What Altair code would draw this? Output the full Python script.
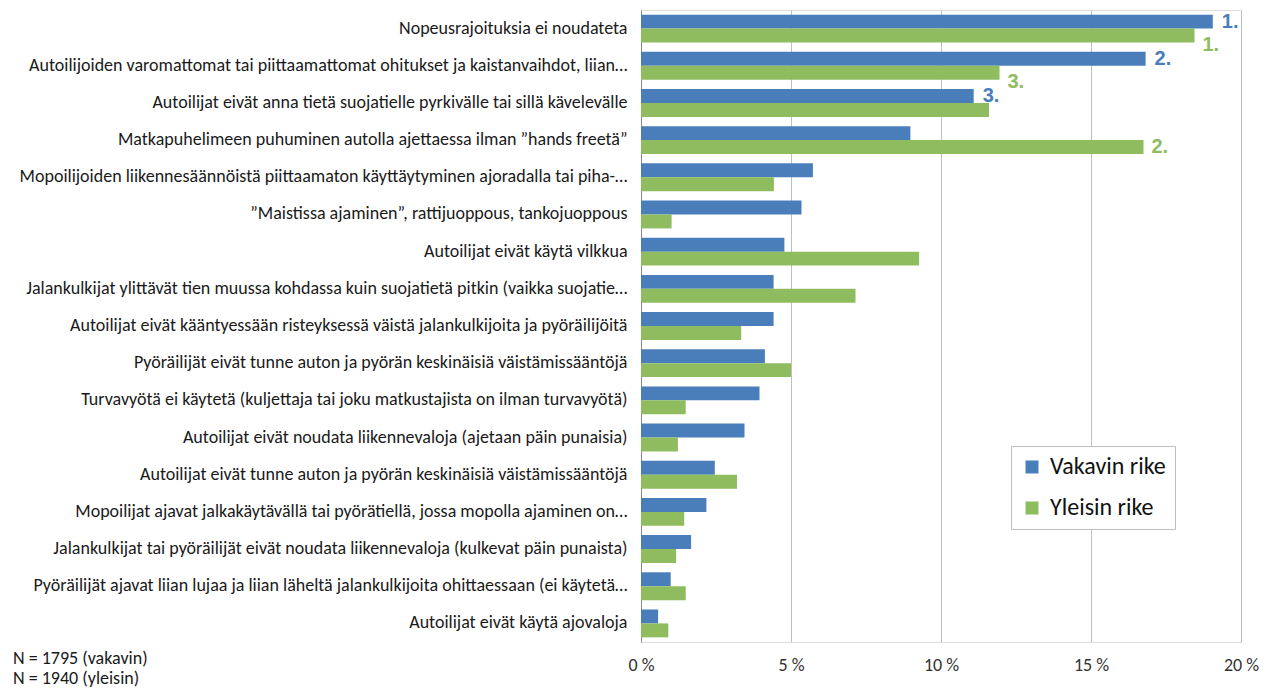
import altair as alt
import pandas as pd

categories = [
    "Nopeusrajoituksia ei noudateta",
    "Autoilijoiden varomattomat tai piittaamattomat ohitukset ja kaistanvaihdot, liian…",
    "Autoilijat eivät anna tietä suojatielle pyrkivälle tai sillä kävelevälle",
    "Matkapuhelimeen puhuminen autolla ajettaessa ilman ”hands freetä”",
    "Mopoilijoiden liikennesäännöistä piittaamaton käyttäytyminen ajoradalla tai piha-…",
    "”Maistissa ajaminen”, rattijuoppous, tankojuoppous",
    "Autoilijat eivät käytä vilkkua",
    "Jalankulkijat ylittävät tien muussa kohdassa kuin suojatietä pitkin (vaikka suojatie…",
    "Autoilijat eivät kääntyessään risteyksessä väistä jalankulkijoita ja pyöräilijöitä",
    "Pyöräilijät eivät tunne auton ja pyörän keskinäisiä väistämissääntöjä",
    "Turvavyötä ei käytetä (kuljettaja tai joku matkustajista on ilman turvavyötä)",
    "Autoilijat eivät noudata liikennevaloja (ajetaan päin punaisia)",
    "Autoilijat eivät tunne auton ja pyörän keskinäisiä väistämissääntöjä",
    "Mopoilijat ajavat jalkakäytävällä tai pyörätiellä,  jossa mopolla ajaminen on…",
    "Jalankulkijat tai pyöräilijät eivät noudata liikennevaloja (kulkevat päin punaista)",
    "Pyöräilijät ajavat liian lujaa ja liian läheltä jalankulkijoita ohittaessaan (ei käytetä…",
    "Autoilijat eivät käytä ajovaloja",
]
vakavin = [19.06, 16.82, 11.09, 8.98, 5.73, 5.35, 4.78, 4.42, 4.42, 4.13, 3.95, 3.45, 2.46, 2.18, 1.67, 0.99, 0.57]
yleisin = [18.45, 11.95, 11.60, 16.75, 4.43, 1.02, 9.27, 7.15, 3.34, 5.00, 1.49, 1.23, 3.20, 1.44, 1.17, 1.49, 0.91]
vakavin_rank = ["1.", "2.", "3.", "", "", "", "", "", "", "", "", "", "", "", "", "", ""]
yleisin_rank = ["1.", "3.", "", "2.", "", "", "", "", "", "", "", "", "", "", "", "", ""]
series = ["Vakavin rike", "Yleisin rike"]
colors = ["#4A7EBB", "#8FBC5F"]
x_ticks = [0, 5, 10, 15, 20]
notes = ["N = 1795 (vakavin)", "N = 1940 (yleisin)"]

FONT = "Carlito, Lato, sans-serif"
RANK_FONT = "'Liberation Sans', Arial, sans-serif"

rows = []
for c, v, r in zip(categories, vakavin, vakavin_rank):
    rows.append({"cat": c, "series": series[0], "value": v, "rank": r})
for c, v, r in zip(categories, yleisin, yleisin_rank):
    rows.append({"cat": c, "series": series[1], "value": v, "rank": r})
df = pd.DataFrame(rows)

y_enc = alt.Y("cat:N", sort=categories,
              scale=alt.Scale(paddingInner=0.25, paddingOuter=0.125),
              axis=alt.Axis(title=None, labelFontSize=18, labelFont=FONT, labelColor="#1a1a1a",
                            labelLimit=800, labelPadding=14, ticks=False, domain=True,
                            domainColor="#888888", domainWidth=1, grid=False))
x_enc = alt.X("value:Q", scale=alt.Scale(domain=[0, 20], nice=False),
              axis=alt.Axis(title=None, values=x_ticks, labelExpr="datum.value + ' %'",
                            labelFontSize=18, labelFont=FONT, labelColor="#333333",
                            labelFlush=False, labelPadding=14, ticks=False, domain=False,
                            grid=True, gridColor="#BFBFBF", gridWidth=1))
yoff = alt.YOffset("series:N", sort=series, scale=alt.Scale(domain=series, paddingInner=0, paddingOuter=0))

bars = alt.Chart(df).mark_bar().encode(
    y=y_enc, x=x_enc, yOffset=yoff,
    color=alt.Color("series:N", scale=alt.Scale(domain=series, range=colors),
                    legend=alt.Legend(title=None, orient="none", legendX=370, legendY=436,
                                      labelFont=FONT, labelFontSize=24, labelColor="#111111",
                                      symbolType="square", symbolSize=169, symbolStrokeWidth=0,
                                      padding=9, rowPadding=17, labelOffset=6,
                                      strokeColor="#BFBFBF", fillColor="white")),
)

base_text = alt.Chart(df).encode(
    y=alt.Y("cat:N", sort=categories), x="value:Q", yOffset=yoff, text="rank:N",
    color=alt.Color("series:N", scale=alt.Scale(domain=series, range=colors), legend=None),
)
txt_v = base_text.transform_filter(
    f"datum.series == '{series[0]}' && datum.rank != ''"
).mark_text(align="left", baseline="middle", dx=9, fontSize=20, fontWeight="bold", font=RANK_FONT)
txt_y_main = base_text.transform_filter(
    f"datum.series == '{series[1]}' && datum.rank == '2.'"
).mark_text(align="left", baseline="middle", dx=8, fontSize=20, fontWeight="bold", font=RANK_FONT)
txt_y_low = base_text.transform_filter(
    f"datum.series == '{series[1]}' && datum.rank != '' && datum.rank != '2.'"
).mark_text(align="left", baseline="middle", dx=8, dy=9, fontSize=20, fontWeight="bold", font=RANK_FONT)

notes_df = pd.DataFrame({"t": notes, "i": [0, 1]})
note1 = alt.Chart(notes_df).transform_filter("datum.i == 0").mark_text(
    align="left", baseline="middle", fontSize=18, font=FONT, color="#1a1a1a"
).encode(text="t:N", x=alt.value(-628), y=alt.value(649))
note2 = alt.Chart(notes_df).transform_filter("datum.i == 1").mark_text(
    align="left", baseline="middle", fontSize=18, font=FONT, color="#1a1a1a"
).encode(text="t:N", x=alt.value(-628), y=alt.value(669))

chart = alt.layer(bars, txt_v, txt_y_main, txt_y_low, note1, note2).properties(
    width=600, height=632,
    padding={"left": 5, "top": 2, "right": 5, "bottom": 0},
).configure_view(stroke=None).configure(background="white")

chart.save("out.html", embed_options={"renderer": "svg", "actions": False})
